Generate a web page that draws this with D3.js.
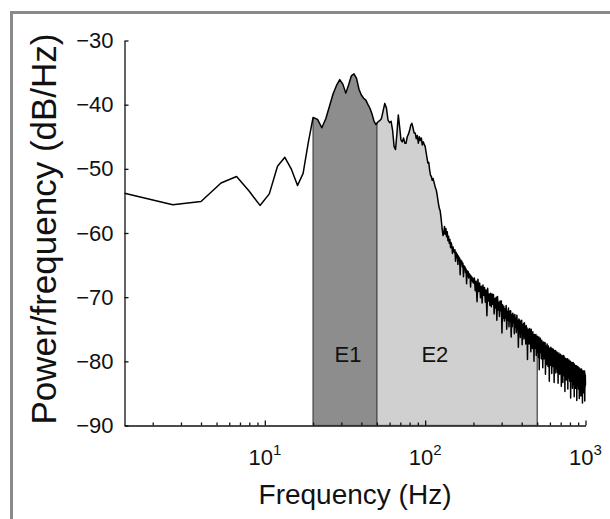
<!DOCTYPE html>
<html><head><meta charset="utf-8">
<script src="https://cdn.jsdelivr.net/npm/d3@7"></script>
<style>
body{margin:0;background:#fff}
svg{display:block}
text{font-family:"Liberation Sans",Arial,Helvetica,sans-serif;fill:#111}
</style>
</head><body>
<svg id="c" width="610" height="519"></svg>
<script>
// Frequency resolution of the spectrum (Hz per bin)
const DF = 4/3;
// PSD (dB/Hz) for bins 1..150 (1.33 Hz .. 200 Hz)
const psdLow = [
-53.8,-55.6,-55.1,-52.2,-51.2,-53.5,-55.7,-53.9,-49.6,-48.2,
-50.1,-52.6,-50.7,-45.9,-42.0,-42.3,-43.6,-42.2,-40.2,-38.3,
-37.0,-36.1,-36.8,-38.2,-36.9,-35.5,-35.2,-35.9,-37.6,-38.5,
-39.0,-39.3,-40.0,-40.6,-41.5,-42.6,-43.1,-42.7,-42.5,-42.2,
-41.0,-39.8,-40.5,-42.4,-42.8,-42.6,-44.0,-46.5,-47.0,-44.5,
-41.6,-43.5,-45.5,-45.8,-45.2,-46.0,-46.0,-45.0,-44.6,-44.0,
-43.2,-42.9,-43.6,-44.4,-44.4,-45.3,-44.8,-46.0,-45.0,-45.6,
-45.2,-46.3,-45.8,-46.2,-46.5,-47.4,-48.3,-49.1,-49.0,-50.2,
-51.0,-51.2,-51.8,-51.5,-52.0,-52.5,-53.0,-53.3,-54.0,-54.8,
-55.6,-56.2,-56.5,-57.4,-58.5,-59.6,-60.4,-60.0,-59.0,-60.2,
-59.3,-60.6,-59.8,-61.2,-60.5,-61.6,-61.0,-62.3,-61.5,-62.0,
-63.2,-62.2,-62.8,-63.0,-62.6,-64.4,-63.0,-63.8,-63.3,-64.9,
-63.6,-64.3,-63.9,-66.5,-64.2,-64.8,-64.4,-65.3,-64.7,-66.8,
-65.1,-65.6,-65.3,-66.2,-65.6,-67.9,-65.9,-66.4,-66.0,-67.0,
-66.3,-66.8,-66.5,-68.4,-66.7,-67.3,-66.9,-67.6,-67.1,-67.8
];
// PSD (dB/Hz) for every second bin from bin 152 (202.7 Hz) to bin 750 (1000 Hz)
const HIGH_START_BIN = 152, HIGH_BIN_STEP = 2;
const psdHigh = [
-67.0,-69.0,-67.5,-70.7,-67.2,-69.1,-67.8,-70.1,-68.3,-70.9,
-68.1,-69.7,-68.5,-70.8,-68.9,-72.9,-68.6,-70.6,-69.5,-71.3,
-69.4,-71.5,-69.5,-71.1,-69.6,-72.6,-70.2,-71.7,-70.0,-73.6,
-69.9,-72.0,-70.8,-73.0,-70.6,-72.1,-70.6,-75.6,-71.2,-73.3,
-71.4,-73.7,-71.8,-73.3,-71.3,-75.0,-72.2,-73.6,-71.7,-74.6,
-72.2,-73.8,-72.1,-76.2,-72.7,-74.6,-72.5,-74.0,-72.8,-75.7,
-72.7,-74.7,-73.3,-75.5,-72.8,-74.9,-73.7,-77.8,-73.4,-75.5,
-73.6,-76.3,-73.8,-75.3,-73.6,-77.4,-74.3,-76.1,-74.1,-76.5,
-74.0,-76.1,-74.7,-77.3,-74.4,-76.4,-74.8,-79.7,-75.1,-77.0,
-75.0,-77.3,-74.9,-76.6,-75.3,-78.5,-75.0,-77.2,-75.8,-78.0,
-75.4,-77.4,-76.0,-80.0,-75.8,-78.0,-76.0,-77.5,-75.8,-79.1,
-76.2,-78.7,-76.1,-78.1,-76.7,-79.4,-76.2,-81.3,-76.7,-78.7,
-76.4,-78.6,-76.9,-79.6,-76.7,-78.5,-77.0,-81.0,-77.4,-79.5,
-77.0,-79.6,-77.6,-79.1,-77.1,-82.0,-77.6,-79.6,-77.6,-80.5,
-77.3,-79.5,-77.9,-80.8,-77.6,-79.4,-77.9,-83.1,-78.0,-80.1,
-78.0,-80.6,-77.8,-79.8,-78.5,-81.9,-78.0,-80.1,-78.4,-80.8,
-78.1,-80.1,-78.5,-83.3,-78.3,-80.7,-78.7,-80.1,-78.3,-81.8,
-78.5,-81.1,-78.9,-80.6,-78.6,-81.7,-78.9,-83.4,-79.1,-81.0,
-78.7,-80.9,-79.4,-82.0,-79.0,-80.9,-78.9,-81.5,-79.4,-83.9,
-79.3,-81.8,-79.1,-80.9,-79.5,-83.3,-79.3,-81.3,-79.1,-82.2,
-79.3,-81.3,-79.7,-84.7,-79.5,-82.1,-79.9,-81.3,-79.6,-82.9,
-79.7,-82.5,-80.1,-81.8,-79.6,-84.3,-80.1,-82.2,-80.4,-82.6,
-79.8,-82.0,-80.0,-83.1,-80.4,-82.0,-80.0,-85.7,-80.4,-82.5,
-80.4,-83.1,-80.2,-82.2,-80.3,-84.2,-80.7,-82.6,-80.2,-83.6,
-80.4,-82.5,-80.8,-85.5,-80.4,-82.9,-80.8,-82.6,-80.7,-84.2,
-80.7,-83.4,-81.0,-83.0,-80.7,-86.1,-81.2,-83.4,-81.1,-83.7,
-80.8,-83.2,-81.3,-84.3,-81.1,-83.1,-81.0,-85.8,-81.5,-83.5,
-81.4,-84.0,-81.2,-83.2,-81.3,-85.4,-81.6,-83.6,-81.2,-84.4,
-81.4,-83.5,-81.7,-86.5,-81.5,-84.1,-81.9,-83.5,-81.5,-84.9,
-81.6,-84.3,-82.0,-83.7,-81.5,-86.2,-81.9,-84.0,-82.2,-83.7
];
const bandNames = ["E1", "E2"];
const bandFrom = [20, 50];
const bandTo = [50, 500];
const bandLabelAt = [33, 115];
const bandFill = ["#8d8d8d", "#d0d0d0"];
const yTicks = [-30, -40, -50, -60, -70, -80, -90];
const xMajor = [10, 100, 1000];
const xMajorExp = ["1", "2", "3"];

const points = psdLow.map((v, i) => ({f: (i + 1) * DF, v}))
  .concat(psdHigh.map((v, i) => ({f: (HIGH_START_BIN + HIGH_BIN_STEP * i) * DF, v})));

const svg = d3.select("#c");
const x = d3.scaleLog().domain([DF, 1000]).range([124.5, 585.5]);
const y = d3.scaleLinear().domain([-90, -30]).range([425.5, 40.5]);

// frame
svg.append("rect").attr("x", 11.5).attr("y", 12.5).attr("width", 640).attr("height", 540)
  .attr("fill", "none").attr("stroke", "#8a8a8a").attr("stroke-width", 3);

const defs = svg.append("defs");
const area = d3.area().x(d => x(d.f)).y0(y(-90)).y1(d => y(d.v));
defs.append("clipPath").attr("id", "under").append("path").attr("d", area(points));

// bands
const bands = bandNames.map((n, i) => ({n, a: bandFrom[i], b: bandTo[i], l: bandLabelAt[i], c: bandFill[i]}));
svg.append("g").attr("clip-path", "url(#under)")
  .selectAll("rect").data(bands).join("rect")
  .attr("x", d => x(d.a)).attr("width", d => x(d.b) - x(d.a))
  .attr("y", y(-30)).attr("height", y(-90) - y(-30))
  .attr("fill", d => d.c).attr("stroke", "#4d4d4d").attr("stroke-width", 1.3);

svg.append("g").selectAll("text").data(bands).join("text")
  .attr("x", d => x(d.l)).attr("y", y(-80.1)).attr("text-anchor", "middle")
  .attr("font-size", 22).text(d => d.n);

// line
svg.append("path").datum(points)
  .attr("d", d3.line().x(d => x(d.f)).y(d => y(d.v)))
  .attr("fill", "none").attr("stroke", "#000").attr("stroke-width", 1.5)
  .attr("stroke-linejoin", "round");

// y axis
const ya = svg.append("g").attr("transform", `translate(${x.range()[0]},0)`)
  .call(d3.axisLeft(y).tickValues(yTicks).tickSize(-4).tickSizeOuter(0).tickPadding(11));
ya.selectAll("text").attr("font-size", 22).attr("font-family", "Liberation Sans, Arial, sans-serif").attr("fill", "#111");
ya.selectAll("line,path").attr("stroke", "#111").attr("stroke-width", 1.3);

// x axis
const minors = [];
[1, 10, 100].forEach(p => { for (let m = 2; m <= 9; m++) { const v = m * p; if (v >= DF && v <= 1000) minors.push(v); } });
const xa = svg.append("g").attr("transform", `translate(0,${y(-90)})`)
  .call(d3.axisBottom(x).tickValues(minors.concat(xMajor)).tickSize(-3).tickSizeOuter(0).tickFormat(""));
xa.selectAll(".tick line").filter(d => xMajor.includes(d)).attr("y2", -5);
xa.selectAll("line,path").attr("stroke", "#111").attr("stroke-width", 1.3);

const xl = svg.append("g").selectAll("text").data(xMajor).join("text")
  .attr("x", d => x(d)).attr("y", y(-90) + 39).attr("text-anchor", "middle").attr("font-size", 22);
xl.append("tspan").text("10");
xl.append("tspan").attr("dy", -10).attr("font-size", 15).text((d, i) => xMajorExp[i]);

// titles
svg.append("text").attr("x", (x.range()[0] + x.range()[1]) / 2).attr("y", 504)
  .attr("text-anchor", "middle").attr("font-size", 28).text("Frequency (Hz)");
svg.append("text").attr("transform", `translate(56,229) rotate(-90)`)
  .attr("text-anchor", "middle").attr("font-size", 35).text("Power/frequency (dB/Hz)");
</script>
</body></html>
